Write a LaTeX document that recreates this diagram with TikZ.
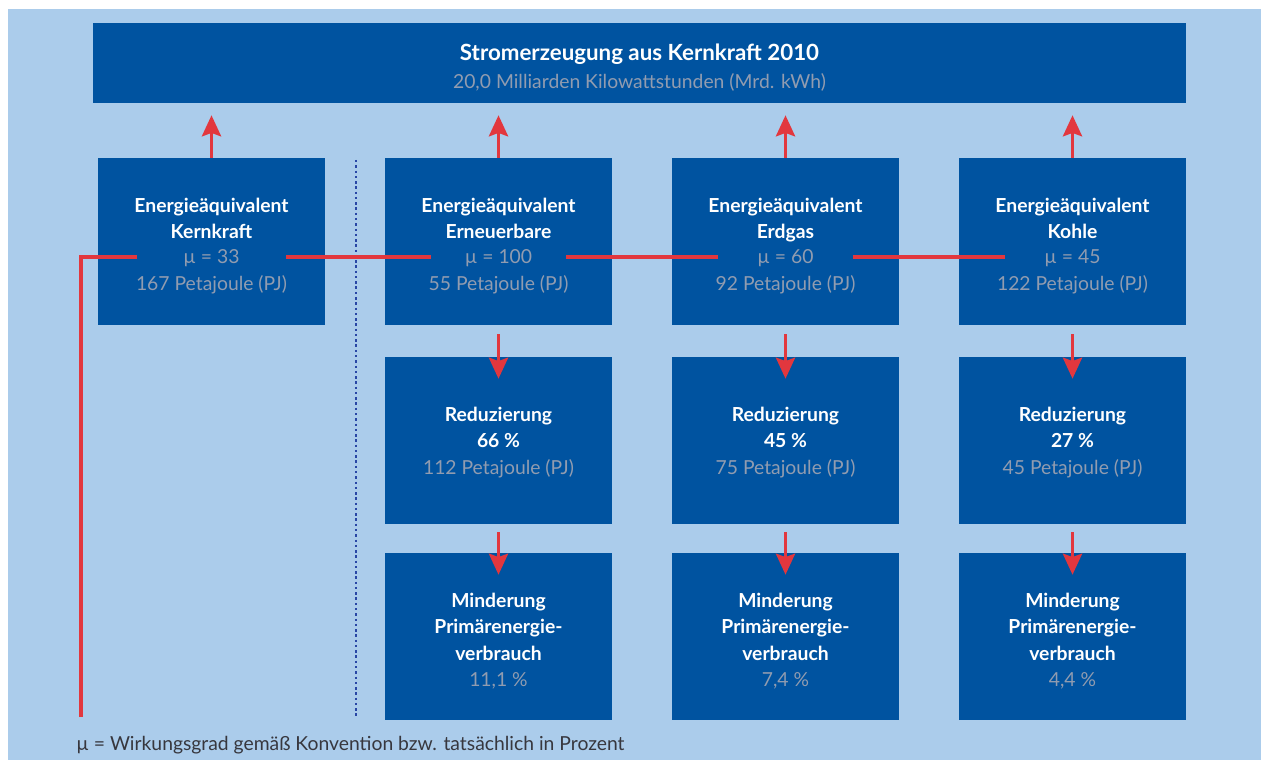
\documentclass[tikz,border=0pt]{standalone}
\usepackage{fontspec}
\setmainfont{Lato}
\usepackage{tikz}
\usetikzlibrary{
  arrows.meta,
  positioning,
  calc
}
\definecolor{hellblau}{RGB}{171,204,235}
\definecolor{boxblau}{RGB}{0,83,160}
\definecolor{pfeilrot}{RGB}{226,55,62}
\definecolor{wertgrau}{RGB}{145,156,176}
\definecolor{punktblau}{RGB}{40,70,165}
\definecolor{fussgrau}{RGB}{55,55,62}

\begin{document}
\begin{tikzpicture}[
        x=0.02cm, y=-0.02cm,
        >={Stealth[length=12pt, width=11pt, inset=2pt]},
        kasten/.style={fill=boxblau, minimum width=4.54cm, minimum height=3.34cm, inner sep=0pt},
        inhalt/.style={text=white, align=center, font=\fontsize{11}{15}\selectfont},
        titel/.style={font=\fontsize{11}{15}\selectfont\bfseries, text=white, align=center},
        wert/.style={font=\fontsize{11}{15}\selectfont, text=wertgrau, align=center},
        pfeil/.style={->, line width=1.5pt, pfeilrot},
        rotlinie/.style={line width=2.3pt, pfeilrot}
    ]
        % Hintergrund
        \useasboundingbox (0,0) rectangle (1261,760);
        \fill[white] (0,0) rectangle (1261,760);
        \fill[hellblau] (8,9) rectangle (1261,760);
        % Kopfzeile
        \node[fill=boxblau, minimum width=21.86cm, minimum height=1.6cm, inner sep=0pt] (kopf) at (639.5,63) {};
        \node[font=\fontsize{12.7}{16}\selectfont\bfseries, text=white] (kopftitel) at (639.5,54) {Stromerzeugung aus Kernkraft 2010};
        \node[wert] (kopfwert) at (639.5,82) {20,0 Milliarden Kilowattstunden (Mrd. kWh)};
        % Trennlinie
        \draw[punktblau, line width=1.4pt, dash pattern=on 1.4pt off 1.6pt] (356,160) -- (356,717);
        % Energieaequivalente
        \foreach \i/\x/\quelle/\wg/\pj/\luecke in {0/211.5/Kernkraft/33/167/2.96cm,
                1/498.5/Erneuerbare/100/55/2.68cm, 2/785.5/Erdgas/60/92/2.68cm,
                3/1072.5/Kohle/45/122/2.68cm} {
            \node[kasten] (e\i) at (\x,241.5) {};
            \node[titel] (t\i) at (\x,222) {Energieäquivalent\\\quelle\strut};
            \node[wert, fill=boxblau, minimum width=\luecke, inner xsep=0pt, inner ysep=1pt,
                text height=0.7em, text depth=0pt] (mu\i) at (\x,257) {µ = \wg};
            \node[wert] (pj\i) at (\x,285) {\pj{} Petajoule (PJ)};
            \draw[pfeil, shorten >=0.24cm] (e\i.north) -- (e\i.north |- kopf.south);
        }
        % Reduzierung und Minderung
        \foreach \i/\x/\proz/\pj/\mind in {1/498.5/66/112/{11,1}, 2/785.5/45/75/{7,4}, 3/1072.5/27/45/{4,4}} {
            \node[kasten] (r\i) at (\x,440.5) {};
            \node[inhalt] (rt\i) at (\x,442.5) {\textbf{Reduzierung}\\\textbf{\proz~\%}\\{\color{wertgrau}\pj{} Petajoule (PJ)}};
            \node[kasten] (m\i) at (\x,636.5) {};
            \node[inhalt] (mt\i) at (\x,641) {\textbf{Minderung}\\\textbf{Primärenergie-}\\\textbf{verbrauch}\\{\color{wertgrau}\mind~\%}};
            \draw[pfeil, shorten <=0.18cm, shorten >=-0.44cm] (e\i.south) -- (r\i.north);
            \draw[pfeil, shorten <=0.16cm, shorten >=-0.44cm] (r\i.south) -- (m\i.north);
        }
        % Rote Linie durch die Wirkungsgrade
        \coordinate (linienfuss) at (81,717);
        \draw[rotlinie] (linienfuss) |- (mu0.west);
        \foreach \a/\b in {0/1, 1/2, 2/3}
            \draw[rotlinie] (mu\a.east) -- (mu\b.west);
        % Fussnote
        \node[anchor=west, inner sep=0pt, font=\fontsize{11}{13}\selectfont, text=fussgrau] (fussnote) at (76,745)
            {µ = Wirkungsgrad gemäß Konvention bzw. tatsächlich in Prozent};
    \end{tikzpicture}
\end{document}
